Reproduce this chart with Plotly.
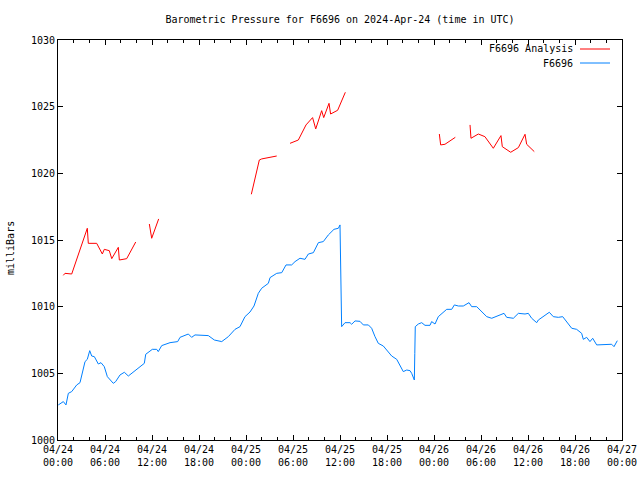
import pandas as pd
import plotly.graph_objects as go

# ---- data (hours since 2024-04-24 00:00 UTC, pressure in mb) ----
analysis_hours = [0.68, 0.89, 1.75, 3.74, 3.87, 4.94, 5.66, 5.91, 6.55, 6.86, 7.70, 7.83, 8.77, 9.92, None,
                  11.66, 11.96, 12.85, None,
                  24.68, 25.70, 26.00, 27.92, None,
                  29.62, 30.68, 31.66, 32.50, 32.90, 33.66, 33.92, 34.60, 34.80, 35.70, 36.68, None,
                  48.68, 48.85, 49.40, 50.04, 50.72, None,
                  52.60, 52.72, 53.66, 54.50, 55.57, 56.55, 56.72, 57.79, 58.77, 59.62, 59.83, 60.80]
analysis_mb = [1012.35, 1012.5, 1012.45, 1015.88, 1014.75, 1014.75, 1013.95, 1014.3, 1014.2, 1013.6, 1014.45, 1013.5, 1013.6, 1014.85, None,
               1016.2, 1015.13, 1016.58, None,
               1018.43, 1021.0, 1021.08, 1021.3, None,
               1022.25, 1022.5, 1023.63, 1024.18, 1023.33, 1024.7, 1024.18, 1025.25, 1024.45, 1024.73, 1026.08, None,
               1022.95, 1022.13, 1022.18, 1022.45, 1022.7, None,
               1023.63, 1022.63, 1022.95, 1022.75, 1021.88, 1022.83, 1022.0, 1021.58, 1021.93, 1022.93, 1022.18, 1021.63]

obs_hours = [0.04, 0.68, 1.02, 1.32, 1.75, 2.39, 2.81, 3.45, 3.74, 4.05, 4.30, 4.64, 5.15, 5.49, 5.91, 6.30,
             7.06, 7.36, 7.92, 8.47, 8.98, 9.83, 11.02, 11.20, 12.04, 12.60, 12.80, 13.24, 14.30, 15.28, 15.58,
             16.64, 17.06, 17.49, 19.19, 19.96, 20.90, 21.74, 22.60, 23.23, 23.87, 24.51, 25.02, 25.57, 26.00,
             26.85, 27.07, 27.92, 28.56, 29.11, 29.83, 30.26, 30.89, 31.53, 31.96, 32.60, 33.24, 33.87, 34.51,
             35.23, 35.79, 36.00, 36.13, 36.21, 36.64, 37.28, 37.49, 37.92, 38.55, 38.98, 39.62, 40.04, 40.47,
             40.89, 41.53, 41.96, 42.60, 43.24, 43.66, 44.08, 44.52, 44.94, 45.15, 45.49, 45.55, 45.61, 46.00,
             46.43, 46.85, 47.49, 47.70, 48.13, 48.55, 48.98, 49.62, 50.26, 50.60, 51.11, 51.74, 52.47, 52.81,
             53.45, 54.09, 54.73, 55.37, 56.00, 56.43, 56.94, 57.28, 58.13, 58.77, 59.62, 60.04, 60.47, 61.11,
             61.32, 61.96, 62.72, 63.23, 63.87, 64.43, 64.94, 65.58, 66.21, 66.85, 67.06, 67.49, 67.91, 68.26,
             68.77, 69.41, 70.04, 70.68, 70.98, 71.40]
obs_mb = [1002.63, 1002.88, 1002.63, 1003.5, 1003.63, 1004.13, 1004.3, 1005.88, 1006.05, 1006.7, 1006.3, 1006.25,
          1005.7, 1005.8, 1005.5, 1004.75, 1004.25, 1004.38, 1004.88, 1005.08, 1004.8, 1005.2, 1005.75, 1006.43,
          1006.8, 1006.8, 1006.63, 1007.08, 1007.3, 1007.38, 1007.7, 1007.95, 1007.7, 1007.88, 1007.83, 1007.5,
          1007.38, 1007.75, 1008.3, 1008.5, 1009.25, 1009.6, 1010.05, 1011.0, 1011.38, 1011.75, 1012.18, 1012.5,
          1012.55, 1013.13, 1013.13, 1013.38, 1013.63, 1013.55, 1013.95, 1014.05, 1014.8, 1014.88, 1015.38,
          1015.8, 1015.88, 1016.13, 1012.25, 1008.5, 1008.8, 1008.8, 1008.68, 1008.93, 1008.9, 1008.63, 1008.63,
          1008.38, 1007.75, 1007.25, 1007.05, 1006.75, 1006.3, 1006.05, 1005.63, 1005.13, 1005.25, 1005.2,
          1005.0, 1004.5, 1006.5, 1008.5, 1008.7, 1008.8, 1008.6, 1008.6, 1008.88, 1008.7, 1009.25, 1009.5,
          1009.8, 1009.8, 1010.13, 1010.05, 1010.05, 1010.3, 1010.0, 1010.0, 1009.63, 1009.25, 1009.13, 1009.25,
          1009.38, 1009.5, 1009.2, 1009.13, 1009.5, 1009.45, 1009.5, 1009.13, 1008.8, 1009.0, 1009.25, 1009.58,
          1009.25, 1009.2, 1009.25, 1008.88, 1008.38, 1008.3, 1008.0, 1007.55, 1007.7, 1007.38, 1007.63, 1007.13,
          1007.13, 1007.13, 1007.18, 1007.0, 1007.45]

title_text = "Barometric Pressure for F6696 on 2024-Apr-24 (time in UTC)"
y_title = "milliBars"
series_names = ["F6696 Analysis", "F6696"]
series_colors = ["#ff0000", "#0080ff"]

base = pd.Timestamp("2024-04-24 00:00")


def to_time(hours):
    return [None if h is None else base + pd.Timedelta(hours=h) for h in hours]


FONT = "DejaVu Sans Mono"

fig = go.Figure()
fig.add_trace(go.Scatter(x=to_time(analysis_hours), y=analysis_mb, mode="lines",
                         line=dict(color=series_colors[0], width=1), connectgaps=False,
                         name=series_names[0], showlegend=False))
fig.add_trace(go.Scatter(x=to_time(obs_hours), y=obs_mb, mode="lines",
                         line=dict(color=series_colors[1], width=1),
                         name=series_names[1], showlegend=False))

# plot-area geometry in pixels
L, R, T, B = 58, 622, 40, 440
def px(x):
    return (x - L) / (R - L)
def py(y):
    return (B - y) / (B - T)

# manual gnuplot-style legend (text, then line sample on the right)
for i, (nm, col) in enumerate(zip(series_names, series_colors)):
    yy = 49 + 14 * i
    fig.add_annotation(x=px(575), y=py(yy), xref="paper", yref="paper", text=nm, showarrow=False,
                       xanchor="right", yanchor="middle", font=dict(family=FONT, size=10, color="black"))
    fig.add_shape(type="line", xref="paper", yref="paper", x0=px(580), x1=px(610), y0=py(yy), y1=py(yy),
                  line=dict(color=col, width=1))

# y axis label
fig.add_annotation(x=px(10), y=py(248), xref="paper", yref="paper", text=y_title, showarrow=False,
                   textangle=-90, xanchor="center", yanchor="middle",
                   font=dict(family=FONT, size=10, color="black"))

fig.update_layout(
    width=640, height=480,
    margin=dict(l=L, r=640 - R, t=T, b=480 - B),
    paper_bgcolor="white", plot_bgcolor="white",
    font=dict(family=FONT, size=10, color="black"),
    title=dict(text=title_text, x=0.5, xref="paper", xanchor="center", y=1 - 19 / 480, yanchor="middle",
               font=dict(family=FONT, size=10, color="black")),
    showlegend=False,
)
fig.update_xaxes(
    type="date", automargin=False,
    range=[base, base + pd.Timedelta(hours=72)],
    tick0=base, dtick=6 * 3600 * 1000, tickformat="%m/%d<br>%H:%M",
    ticks="inside", ticklen=5, tickcolor="black", tickwidth=1,
    minor=dict(tick0=base, dtick=2 * 3600 * 1000, ticks="inside", ticklen=3, tickcolor="black", showgrid=False),
    showline=True, linecolor="black", linewidth=1, mirror="ticks",
    showgrid=False, zeroline=False,
    tickfont=dict(family=FONT, size=10),
)
fig.update_yaxes(
    automargin=False,
    range=[1000, 1030], tick0=1000, dtick=5,
    ticks="inside", ticklen=5, tickcolor="black", tickwidth=1,
    showline=True, linecolor="black", linewidth=1, mirror="ticks",
    showgrid=False, zeroline=False,
    tickfont=dict(family=FONT, size=10),
)

fig.write_html("out.html")
